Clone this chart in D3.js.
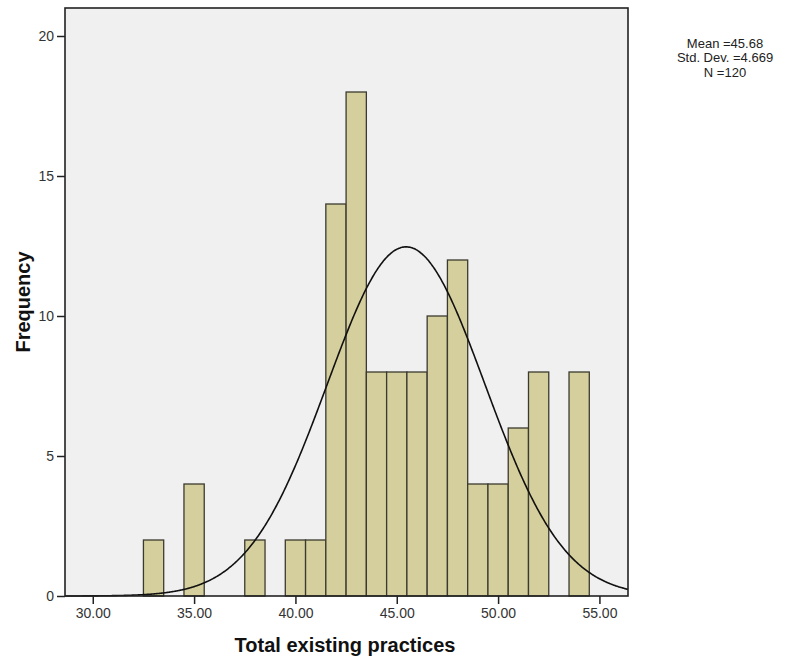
<!DOCTYPE html>
<html>
<head>
<meta charset="utf-8">
<script src="https://cdn.jsdelivr.net/npm/d3@7"></script>
<style>
  body { margin: 0; background: #fff; }
  svg { font-family: "Liberation Sans", Arial, sans-serif; }
</style>
</head>
<body>
<div id="chart"></div>
<script>
// bin centres (bin width 1) and their counts
const binCenters = [33, 35, 38, 40, 41, 42, 43, 44, 45, 46, 47, 48, 49, 50, 51, 52, 54];
const binCounts  = [2, 4, 2, 2, 2, 14, 18, 8, 8, 8, 10, 12, 4, 4, 6, 8, 8];
const binWidth = 1;

const xTicks = [30, 35, 40, 45, 50, 55];
const yTicks = [0, 5, 10, 15, 20];

const statLines = ["Mean =45.68", "Std. Dev. =4.669", "N =120"];

// normal curve as drawn
const curveMean = 45.46;
const curveSd = 3.89;
const curvePeak = 12.47;

const width = 785, height = 660;
const plot = { left: 65, right: 628, top: 8, bottom: 596 };

const svg = d3.select("#chart").append("svg")
  .attr("width", width)
  .attr("height", height);

const x = d3.scaleLinear().domain([28.63, 56.41]).range([plot.left, plot.right]);
const y = d3.scaleLinear().domain([0, 21]).range([plot.bottom, plot.top]);

svg.append("rect")
  .attr("x", plot.left).attr("y", plot.top)
  .attr("width", plot.right - plot.left)
  .attr("height", plot.bottom - plot.top)
  .attr("fill", "#f0f0f0");

const bins = binCenters.map((c, i) => ({ c, n: binCounts[i] }));

svg.selectAll(".bar")
  .data(bins)
  .enter()
  .append("rect")
  .attr("class", "bar")
  .attr("x", d => x(d.c - binWidth / 2))
  .attr("y", d => y(d.n))
  .attr("width", d => x(d.c + binWidth / 2) - x(d.c - binWidth / 2))
  .attr("height", d => y(0) - y(d.n))
  .attr("fill", "#d4cf9c")
  .attr("stroke", "#3b3a30")
  .attr("stroke-width", 1.3);

const xs = d3.range(plot.left, plot.right + 1, 1).map(px => x.invert(px));
const line = d3.line()
  .x(v => x(v))
  .y(v => y(curvePeak * Math.exp(-((v - curveMean) ** 2) / (2 * curveSd * curveSd))))
  .curve(d3.curveBasis);

svg.append("path")
  .datum(xs)
  .attr("d", line)
  .attr("fill", "none")
  .attr("stroke", "#111")
  .attr("stroke-width", 1.6);

svg.append("rect")
  .attr("x", plot.left).attr("y", plot.top)
  .attr("width", plot.right - plot.left)
  .attr("height", plot.bottom - plot.top)
  .attr("fill", "none")
  .attr("stroke", "#222")
  .attr("stroke-width", 1.6);

// axes
const xAxis = svg.append("g")
  .attr("transform", `translate(0,${plot.bottom})`)
  .call(d3.axisBottom(x).tickValues(xTicks).tickFormat(d3.format(".2f")).tickSize(8).tickPadding(4));
xAxis.select(".domain").remove();
xAxis.selectAll("line").attr("stroke", "#222").attr("stroke-width", 1.5);
xAxis.selectAll("text").attr("font-size", 14).attr("fill", "#333")
  .attr("font-family", "Liberation Sans, Arial, sans-serif");

const yAxis = svg.append("g")
  .attr("transform", `translate(${plot.left},0)`)
  .call(d3.axisLeft(y).tickValues(yTicks).tickSize(8).tickPadding(3));
yAxis.select(".domain").remove();
yAxis.selectAll("line").attr("stroke", "#222").attr("stroke-width", 1.5);
yAxis.selectAll("text").attr("font-size", 14).attr("fill", "#333")
  .attr("font-family", "Liberation Sans, Arial, sans-serif");

svg.append("text")
  .attr("x", 345).attr("y", 652)
  .attr("text-anchor", "middle")
  .attr("font-size", 20).attr("font-weight", "bold")
  .attr("fill", "#111")
  .text("Total existing practices");

svg.append("text")
  .attr("transform", `translate(30,${(plot.top + plot.bottom) / 2}) rotate(-90)`)
  .attr("text-anchor", "middle")
  .attr("font-size", 20).attr("font-weight", "bold")
  .attr("fill", "#111")
  .text("Frequency");

svg.append("g")
  .selectAll("text")
  .data(statLines)
  .enter()
  .append("text")
  .attr("x", 725)
  .attr("y", (d, i) => 47.5 + i * 14.5)
  .attr("text-anchor", "middle")
  .attr("font-size", 13)
  .attr("fill", "#222")
  .text(d => d);
</script>
</body>
</html>
